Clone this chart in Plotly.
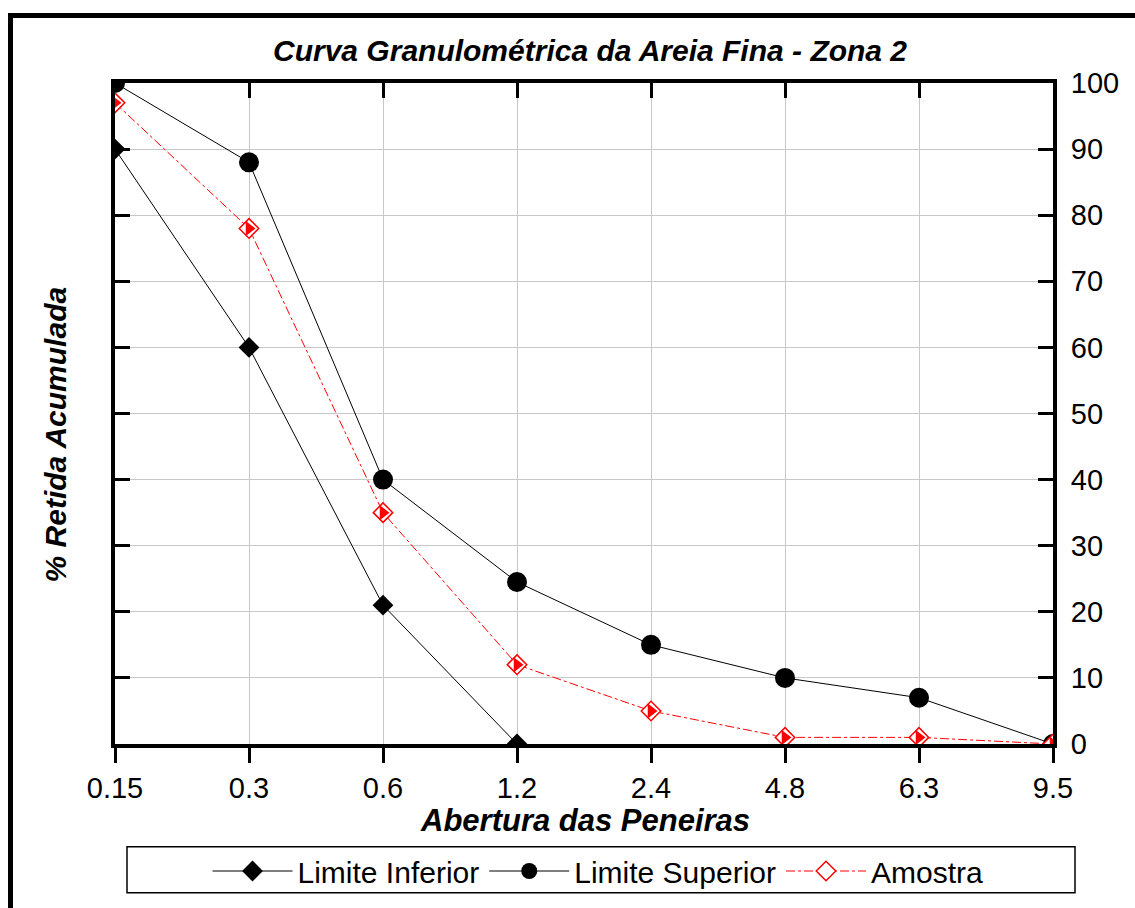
import plotly.graph_objects as go

# ---- data ----
aberturas = ["0.15", "0.3", "0.6", "1.2", "2.4", "4.8", "6.3", "9.5"]
lim_inf_x = ["0.15", "0.3", "0.6", "1.2"]
lim_inf_y = [90, 60, 21, 0]
lim_sup_y = [100, 88, 40, 24.5, 15, 10, 7, 0]
amostra_y = [97, 78, 35, 12, 5, 1, 1, 0]
y_ticks = [0, 10, 20, 30, 40, 50, 60, 70, 80, 90, 100]

W, H = 1135, 908
L, R, T, B = 115, 82, 83, 163
pw, ph = W - L - R, H - T - B

def px(x):
    return (x - L) / pw

def py(y):
    return (H - B - y) / ph

FONT = "Liberation Sans, Arial, sans-serif"

fig = go.Figure()
fig.add_trace(go.Scatter(
    x=lim_inf_x, y=lim_inf_y, name="Limite Inferior", mode="lines+markers",
    line=dict(color="black", width=1),
    marker=dict(symbol="diamond", size=16, color="black"),
))
fig.add_trace(go.Scatter(
    x=aberturas, y=lim_sup_y, name="Limite Superior", mode="lines+markers",
    line=dict(color="black", width=1),
    marker=dict(symbol="circle", size=20, color="black"),
))
fig.add_trace(go.Scatter(
    x=aberturas, y=amostra_y, name="Amostra", mode="lines+markers",
    line=dict(color="red", width=1, dash="dashdot"),
    marker=dict(symbol="diamond", size=15, color="white", line=dict(color="red", width=1.5)),
))
fig.add_trace(go.Scatter(
    x=aberturas, y=amostra_y, name="Amostra", mode="markers", showlegend=False,
    marker=dict(symbol="triangle-right", size=13, color="red"),
    hoverinfo="skip",
))
# helper trace for top axis ticks
fig.add_trace(go.Scatter(
    x=aberturas, y=[None] * len(aberturas), xaxis="x2", showlegend=False,
    hoverinfo="skip", mode="lines",
))

axis_common = dict(
    showline=True, linecolor="black", linewidth=4,
    tickcolor="black", tickwidth=3, ticklen=15,
    tickfont=dict(family=FONT, size=29, color="black"),
)

fig.update_layout(
    width=W, height=H,
    margin=dict(l=L, r=R, t=T, b=B),
    paper_bgcolor="white", plot_bgcolor="white",
    showlegend=True,
    xaxis=dict(
        type="category", categoryorder="array", categoryarray=aberturas,
        range=[0, len(aberturas) - 1], ticks="outside", mirror=True,
        showgrid=True, gridcolor="#c8c8c8", gridwidth=1, zeroline=False,
        **axis_common,
    ),
    xaxis2=dict(
        type="category", categoryorder="array", categoryarray=aberturas,
        range=[0, len(aberturas) - 1], overlaying="x", side="top", anchor="y",
        ticks="inside", ticklen=15, tickwidth=3, tickcolor="black",
        showticklabels=False, showgrid=False, showline=False, zeroline=False,
    ),
    yaxis=dict(
        range=[0, 100], tickvals=y_ticks, side="right", ticks="inside",
        mirror="ticks", showgrid=True, gridcolor="#c8c8c8", gridwidth=1,
        zeroline=False, ticklabelstandoff=8,
        **axis_common,
    ),
    legend=dict(
        orientation="h", x=px(598), xanchor="center", y=py(871), yanchor="middle",
        borderwidth=0, bgcolor="rgba(0,0,0,0)",
        font=dict(family=FONT, size=30, color="black"),
        itemwidth=80, tracegroupgap=0,
    ),
    annotations=[
        dict(text="Curva Granulométrica da Areia Fina - Zona 2", xref="paper", yref="paper",
             x=px(590), y=py(50), xanchor="center", yanchor="middle", showarrow=False,
             font=dict(family=FONT, size=30, color="black", weight="bold", style="italic")),
        dict(text="% Retida Acumulada", xref="paper", yref="paper",
             x=px(55), y=py(435), xanchor="center", yanchor="middle", showarrow=False,
             textangle=-90,
             font=dict(family=FONT, size=30, color="black", weight="bold", style="italic")),
        dict(text="Abertura das Peneiras", xref="paper", yref="paper",
             x=px(585), y=py(822), xanchor="center", yanchor="middle", showarrow=False,
             font=dict(family=FONT, size=31, color="black", weight="bold", style="italic")),
    ],
    shapes=[
        dict(type="line", xref="paper", yref="paper", x0=px(8), x1=px(1140),
             y0=py(15.5), y1=py(15.5), line=dict(color="black", width=5)),
        dict(type="line", xref="paper", yref="paper", x0=px(10.5), x1=px(10.5),
             y0=py(13), y1=py(915), line=dict(color="black", width=5)),
        dict(type="rect", xref="paper", yref="paper", x0=px(127), x1=px(1075),
             y0=py(848), y1=py(894), line=dict(color="black", width=1.5),
             fillcolor="rgba(0,0,0,0)", layer="below"),
    ],
)

fig.write_html("out.html", config={"displayModeBar": False},
               post_script="document.body.style.margin='0';document.body.style.overflow='hidden';")
